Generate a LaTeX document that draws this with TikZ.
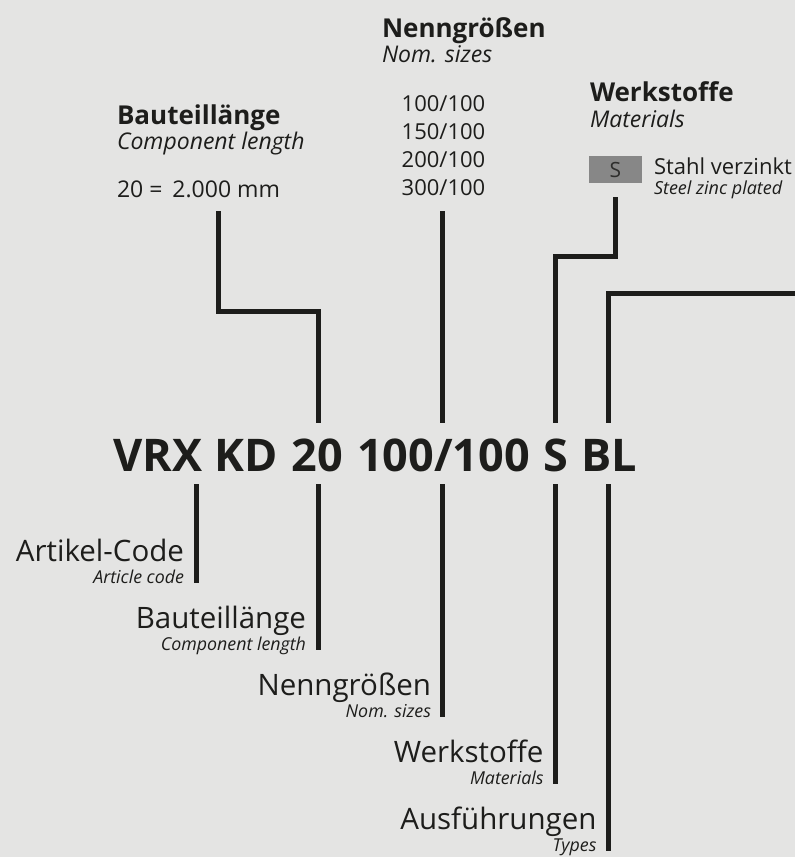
\documentclass[tikz,border=0pt]{standalone}
\usepackage{fontspec}
\setmainfont{Open Sans}
\definecolor{bg}{HTML}{E4E4E3}
\definecolor{ink}{HTML}{1D1D1B}
\definecolor{boxgray}{HTML}{878787}
\definecolor{boxink}{HTML}{2E2E2D}
\begin{document}
\begin{tikzpicture}[x=1pt,y=-1pt,
  every node/.style={inner sep=0pt, outer sep=0pt, text=ink},
  conn/.style={draw=ink, line width=5pt},
  codefont/.style={font=\fontsize{45}{45}\selectfont\bfseries, anchor=base},
  head/.style={font=\fontsize{26}{26}\selectfont\bfseries, anchor=base west},
  headsub/.style={font=\fontsize{23}{23}\selectfont\itshape, anchor=base west},
  val/.style={font=\fontsize{22}{22}\selectfont},
  lbl/.style={font=\fontsize{29.5}{30}\selectfont, anchor=base east},
  lblsub/.style={font=\fontsize{17.8}{18}\selectfont\itshape, anchor=base east},
  matbox/.style={fill=boxgray, minimum width=53pt, minimum height=27pt}
]
\fill[bg] (0,0) rectangle (795,857);
\useasboundingbox (0,0) rectangle (795,857);

% --- article code ---
\node[codefont] (cVK) at (195.5,471) {VRX KD};
\node[codefont] (c20) at (317.5,471) {20};
\node[codefont] (c100) at (443.5,471) {100/100};
\node[codefont] (cS) at (555.5,471) {S};
\node[codefont] (cBL) at (609,471) {BL};

% --- top: Bauteillänge ---
\node[head] (hBL) at (117,124) {Bauteillänge};
\node[headsub] (hBLs) at (117,149) {Component length};
\node[val, font=\fontsize{23}{23}\selectfont, anchor=base west] (vBL) at (117,197) {20 =\hspace{10pt}2.000 mm};

% --- top: Nenngrößen ---
\node[head] (hNG) at (382,37) {Nenngrößen};
\node[headsub] (hNGs) at (382,62) {Nom. sizes};
\node[val, anchor=base] (v1) at (443.5,111) {100/100};
\node[val, anchor=base] (v2) at (443.5,139) {150/100};
\node[val, anchor=base] (v3) at (443.5,167) {200/100};
\node[val, anchor=base] (v4) at (443.5,195) {300/100};

% --- top: Werkstoffe ---
\node[head] (hWS) at (590,101) {Werkstoffe};
\node[headsub] (hWSs) at (590,127) {Materials};
\node[matbox] (mS) at (615.5,169.5) {};
\node[font=\fontsize{21}{21}\selectfont, text=boxink, anchor=base] (mSt) at (615.5,177.5) {S};
\node[val, anchor=base west] (mT) at (654,174.5) {Stahl verzinkt};
\node[font=\fontsize{18}{18}\selectfont\itshape, anchor=base west] (mTs) at (654,194) {Steel zinc plated};

% --- top connectors ---
\coordinate (tBL) at (218.5,211);
\coordinate (tNG) at (442.5,211);
\coordinate (tBR) at (795,293.5);
\draw[conn] (tBL) -- (218.5,311.5) -- (318,311.5) -- (318,423);
\draw[conn] (tNG) -- (442.5,423);
\draw[conn] ([yshift=-14pt]mS.south) -- (615.5,256) -- (555.5,256) -- (555.5,423);
\draw[conn] (tBR) -- (608.5,293.5) -- (608.5,423);

% --- bottom labels ---
\node[lbl] (lAC) at (184,561) {Artikel-Code};
\node[lblsub] (lACs) at (184,583) {Article code};
\node[lbl] (lBL) at (306,628) {Bauteillänge};
\node[lblsub] (lBLs) at (306,650) {Component length};
\node[lbl] (lNG) at (431,695) {Nenngrößen};
\node[lblsub] (lNGs) at (431,717) {Nom. sizes};
\node[lbl] (lWS) at (543.5,762) {Werkstoffe};
\node[lblsub] (lWSs) at (543.5,784) {Materials};
\node[lbl] (lAF) at (596.5,829) {Ausführungen};
\node[lblsub] (lAFs) at (596.5,851) {Types};

% --- bottom connectors ---
\draw[conn] (196,484) -- (196,583);
\draw[conn] (318,484) -- (318,650);
\draw[conn] (442.5,484) -- (442.5,717);
\draw[conn] (555.5,484) -- (555.5,784);
\draw[conn] (608.5,484) -- (608.5,851);
\end{tikzpicture}
\end{document}
